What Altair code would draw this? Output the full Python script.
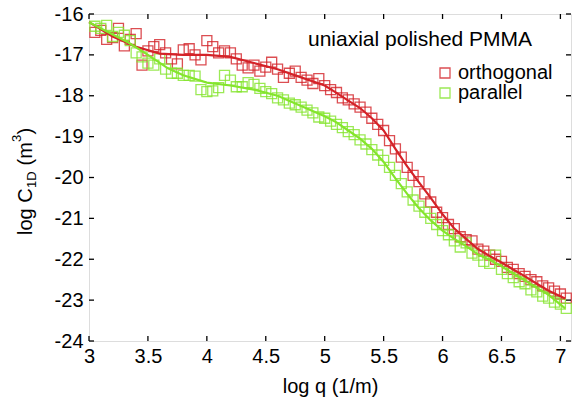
import altair as alt
import pandas as pd

# ---- data ----
orth_x = [3.05, 3.10, 3.15, 3.20, 3.25, 3.30, 3.35, 3.40, 3.45, 3.50,
          3.55, 3.60, 3.65, 3.70, 3.75, 3.80, 3.85, 3.90, 3.95, 4.00,
          4.05, 4.10, 4.15, 4.20, 4.25, 4.30, 4.35, 4.40, 4.45, 4.50,
          4.55, 4.60, 4.65, 4.70, 4.75, 4.80, 4.85, 4.90, 4.95, 5.00,
          5.05, 5.10, 5.15, 5.20, 5.25, 5.30, 5.35, 5.40, 5.45, 5.50,
          5.55, 5.60, 5.65, 5.70, 5.75, 5.80, 5.85, 5.90, 5.95, 6.00,
          6.05, 6.10, 6.15, 6.20, 6.25, 6.30, 6.35, 6.40, 6.45, 6.50,
          6.55, 6.60, 6.65, 6.70, 6.75, 6.80, 6.85, 6.90, 6.95, 7.00, 7.05]
orth_y = [-16.45, -16.40, -16.62, -16.58, -16.35, -16.78, -16.62, -16.48, -17.25, -16.90,
          -16.80, -16.75, -16.95, -17.10, -17.22, -16.88, -16.85, -17.00, -17.12, -16.65,
          -16.80, -16.95, -16.90, -16.95, -17.10, -17.25, -17.32, -17.25, -17.40, -17.30,
          -17.18, -17.35, -17.55, -17.45, -17.40, -17.55, -17.62, -17.70, -17.58, -17.75,
          -17.85, -17.92, -18.05, -18.10, -18.20, -18.28, -18.40, -18.55, -18.70, -18.85,
          -19.10, -19.30, -19.50, -19.75, -19.95, -20.10, -20.40, -20.60, -20.85, -20.98,
          -21.15, -21.25, -21.45, -21.52, -21.55, -21.75, -21.80, -21.90, -22.00, -22.05,
          -22.20, -22.25, -22.35, -22.42, -22.50, -22.55, -22.65, -22.70, -22.78, -22.85, -22.95]

par_x = orth_x
par_y = [-16.30, -16.35, -16.28, -16.55, -16.45, -16.52, -16.65, -16.95, -17.05, -17.20,
         -17.25, -17.10, -17.35, -17.45, -17.45, -17.50, -17.50, -17.52, -17.85, -17.90,
         -17.88, -17.80, -17.50, -17.62, -17.78, -17.78, -17.68, -17.72, -17.82, -17.90,
         -17.95, -18.05, -18.10, -18.18, -18.22, -18.28, -18.35, -18.42, -18.52, -18.55,
         -18.62, -18.70, -18.78, -18.88, -18.95, -19.08, -19.18, -19.32, -19.45, -19.58,
         -19.75, -19.95, -20.15, -20.35, -20.55, -20.70, -20.85, -21.00, -21.15, -21.30,
         -21.40, -21.55, -21.70, -21.60, -21.85, -21.90, -22.05, -22.10, -21.90, -22.25,
         -22.35, -22.45, -22.55, -22.60, -22.75, -22.80, -22.90, -22.95, -23.05, -23.10, -23.20]

fit_orth_x = [3.0, 3.2, 3.4, 3.6, 3.8, 4.0, 4.2, 4.4, 4.6, 4.8, 5.0, 5.1, 5.2, 5.3, 5.4,
              5.5, 5.6, 5.7, 5.8, 5.9, 6.0, 6.1, 6.2, 6.3, 6.4, 6.5, 6.6, 6.7, 6.8, 6.9, 7.04]
fit_orth_y = [-16.2, -16.55, -16.8, -16.97, -17.0, -17.0, -17.05, -17.2, -17.35, -17.55,
              -17.75, -17.93, -18.12, -18.3, -18.55, -18.85, -19.3, -19.73, -20.12, -20.5,
              -20.9, -21.25, -21.5, -21.75, -21.92, -22.08, -22.25, -22.42, -22.6, -22.77, -22.96]

fit_par_x = [3.0, 3.2, 3.33, 3.5, 3.67, 3.8, 4.0, 4.2, 4.4, 4.6, 4.8, 5.0, 5.1, 5.2, 5.3,
             5.4, 5.5, 5.6, 5.7, 5.8, 5.9, 6.0, 6.1, 6.2, 6.3, 6.4, 6.5, 6.6, 6.7, 6.8, 6.9, 7.04]
fit_par_y = [-16.2, -16.5, -16.69, -17.0, -17.33, -17.5, -17.68, -17.75, -17.85, -18.0,
             -18.25, -18.5, -18.65, -18.85, -19.05, -19.3, -19.62, -20.02, -20.4, -20.75,
             -21.05, -21.3, -21.5, -21.68, -21.88, -22.02, -22.17, -22.35, -22.52, -22.7,
             -22.87, -23.2]

x_ticks = [3, 3.5, 4, 4.5, 5, 5.5, 6, 6.5, 7]
y_ticks = [-16, -17, -18, -19, -20, -21, -22, -23, -24]

legend_labels = ["orthogonal", "parallel"]
annotation = "uniaxial polished PMMA"

RED = "#d42228"
GREEN = "#84e52c"
W, H = 482, 327
FONT = "Liberation Sans"

xs = alt.Scale(domain=[3, 7.09], nice=False, zero=False)
ys = alt.Scale(domain=[-24, -16], nice=False, zero=False)

pts = pd.DataFrame({"x": orth_x + par_x, "y": orth_y + par_y,
                    "s": ["orthogonal"] * len(orth_x) + ["parallel"] * len(par_x)})
fits = pd.DataFrame({"x": fit_orth_x + fit_par_x, "y": fit_orth_y + fit_par_y,
                     "s": ["orthogonal"] * len(fit_orth_x) + ["parallel"] * len(fit_par_x)})
cscale = alt.Scale(domain=legend_labels, range=[RED, GREEN])

xaxis = alt.Axis(values=x_ticks, ticks=False, domain=False, grid=False,
                 labelFontSize=20, labelPadding=5, labelColor="black",
                 labelFlush=False, labelExpr="'' + datum.value",
                 title="log q (1/m)", titleFontSize=20, titleFontWeight="normal",
                 titleColor="black", titlePadding=10)
yaxis = alt.Axis(values=y_ticks, ticks=False, domain=False, grid=False,
                 labelFontSize=20, labelPadding=6, labelColor="black",
                 labelFlush=False,
                 labelExpr="'' + datum.value", title=None)

points = alt.Chart(pts).mark_point(shape="square", filled=False, size=100,
                                   strokeWidth=1.3, opacity=0.8).encode(
    x=alt.X("x:Q", scale=xs, axis=xaxis),
    y=alt.Y("y:Q", scale=ys, axis=yaxis),
    color=alt.Color("s:N", scale=cscale, legend=None),
)

lines = alt.Chart(fits).mark_line(strokeWidth=2.2).encode(
    x=alt.X("x:Q", scale=xs),
    y=alt.Y("y:Q", scale=ys),
    color=alt.Color("s:N", scale=cscale, legend=None),
    detail="s:N",
)

xt = pd.DataFrame({"t": x_ticks})
yt = pd.DataFrame({"t": y_ticks})
tick_b = alt.Chart(xt).mark_rule(color="black", strokeWidth=1.3).encode(
    x=alt.X("t:Q", scale=xs), y=alt.value(H), y2=alt.value(H - 5))
tick_t = alt.Chart(xt).mark_rule(color="black", strokeWidth=1.3).encode(
    x=alt.X("t:Q", scale=xs), y=alt.value(0), y2=alt.value(5))
tick_l = alt.Chart(yt).mark_rule(color="black", strokeWidth=1.3).encode(
    y=alt.Y("t:Q", scale=ys), x=alt.value(0), x2=alt.value(5))
tick_r = alt.Chart(yt).mark_rule(color="black", strokeWidth=1.3).encode(
    y=alt.Y("t:Q", scale=ys), x=alt.value(W), x2=alt.value(W - 5))

ann = alt.Chart(pd.DataFrame({"t": [annotation]})).mark_text(
    align="left", baseline="alphabetic", fontSize=21, color="black").encode(
    x=alt.value(219), y=alt.value(32), text="t:N")

leg = pd.DataFrame({"s": legend_labels, "yy": [59, 79]})
leg_sq = alt.Chart(leg).mark_point(shape="square", filled=False, size=100,
                                   strokeWidth=1.3, opacity=0.8).encode(
    x=alt.value(356), y=alt.Y("yy:Q", scale=None),
    color=alt.Color("s:N", scale=cscale, legend=None))
leg_tx = alt.Chart(leg).mark_text(align="left", baseline="middle", fontSize=20,
                                  color="black").encode(
    x=alt.value(369), y=alt.Y("yy:Q", scale=None), text="s:N")

# y-axis title with subscript / superscript pieces (rotated, read bottom-to-top)
ytitle_parts = pd.DataFrame({
    "t": ["log C", "1D", "(m", "3", ")"],
    "px": [-57, -53, -57, -68, -57],
    "py": [221, 174, 151.5, 128, 120.5],
    "fs": [20, 13, 20, 13, 20],
})
ytitle = alt.Chart(ytitle_parts).mark_text(
    angle=270, align="left", baseline="alphabetic", color="black").encode(
    x=alt.X("px:Q", scale=None), y=alt.Y("py:Q", scale=None), text="t:N",
    size=alt.Size("fs:Q", scale=None, legend=None))

chart = alt.layer(points, lines, tick_b, tick_t, tick_l, tick_r, ann,
                  leg_sq, leg_tx, ytitle).properties(
    width=W, height=H,
    autosize=alt.AutoSizeParams(type="none"),
    padding={"left": 89, "top": 14, "right": 3, "bottom": 60},
    background="white",
).configure_view(stroke="black", strokeWidth=1.5).configure(font=FONT)

chart.save("out.html", embed_options={"renderer": "svg", "actions": False})
